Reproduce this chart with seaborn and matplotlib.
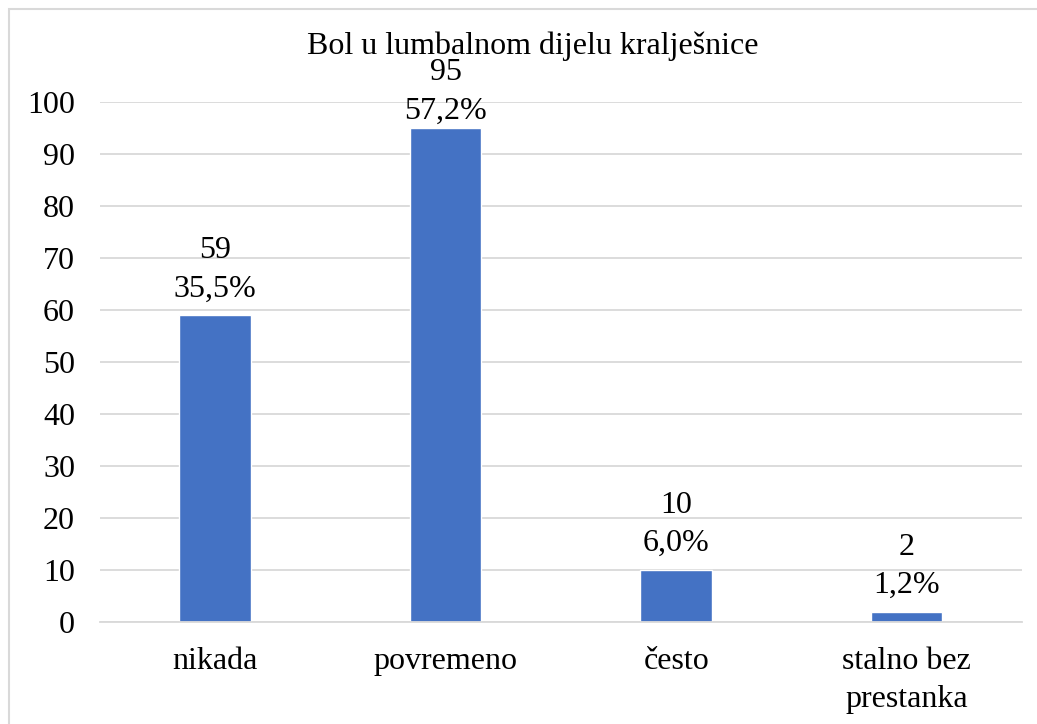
import matplotlib.pyplot as plt
import seaborn as sns
import pandas as pd

# data
categories = ['nikada', 'povremeno', 'često', 'stalno bez\nprestanka']
counts = [59, 95, 10, 2]
percents = ['35,5%', '57,2%', '6,0%', '1,2%']

df = pd.DataFrame({'odgovor': categories, 'broj': counts})

sns.set_style('white')
plt.rcParams['font.family'] = ['Liberation Serif', 'DejaVu Serif']
plt.rcParams['text.color'] = 'black'
plt.rcParams['xtick.color'] = 'black'
plt.rcParams['ytick.color'] = 'black'

fig = plt.figure(figsize=(10.37, 7.24), dpi=100)
ax = fig.add_axes([0.0964, 0.141, 0.889, 0.718])

sns.barplot(x='odgovor', y='broj', data=df, color='#4472C4', saturation=1,
            width=0.31, ax=ax)

# labels above bars (the tallest one is pushed down a bit, like Excel does)
for i, (c, p) in enumerate(zip(counts, percents)):
    off = 7 if c > 90 else 13.5
    ax.annotate(f'{c}\n{p}', xy=(i, c), xytext=(0, off),
                textcoords='offset points', ha='center', va='baseline',
                fontsize=23, linespacing=1.42, color='black')

ax.set_ylim(0, 100)
ax.set_xlim(-0.5, 3.5)
ax.set_yticks(range(0, 101, 10))
ax.yaxis.grid(True, color='#d9d9d9', linewidth=1.3)
ax.set_axisbelow(True)
ax.set_xlabel('')
ax.set_ylabel('')
for s in ['left', 'right', 'top']:
    ax.spines[s].set_visible(False)
ax.spines['bottom'].set_color('#d9d9d9')
ax.spines['bottom'].set_linewidth(1.3)
ax.tick_params(axis='both', length=0, labelsize=23, labelcolor='black')
ax.tick_params(axis='y', pad=18)
ax.tick_params(axis='x', pad=18)
for lbl in ax.get_xticklabels():
    lbl.set_linespacing(1.42)

fig.text(533 / 1037, 1 - 54 / 724, 'Bol u lumbalnom dijelu kralješnice',
         ha='center', va='baseline', fontsize=23, color='black')

# light border around the chart (right/bottom edges fall outside the image)
fig.patches.append(plt.Rectangle((9 / 1037, -0.1), 1.2, 1.1 - 9 / 724,
                                 fill=False, edgecolor='#d9d9d9',
                                 linewidth=1.5, transform=fig.transFigure))

fig.savefig('out.png', dpi=100)
